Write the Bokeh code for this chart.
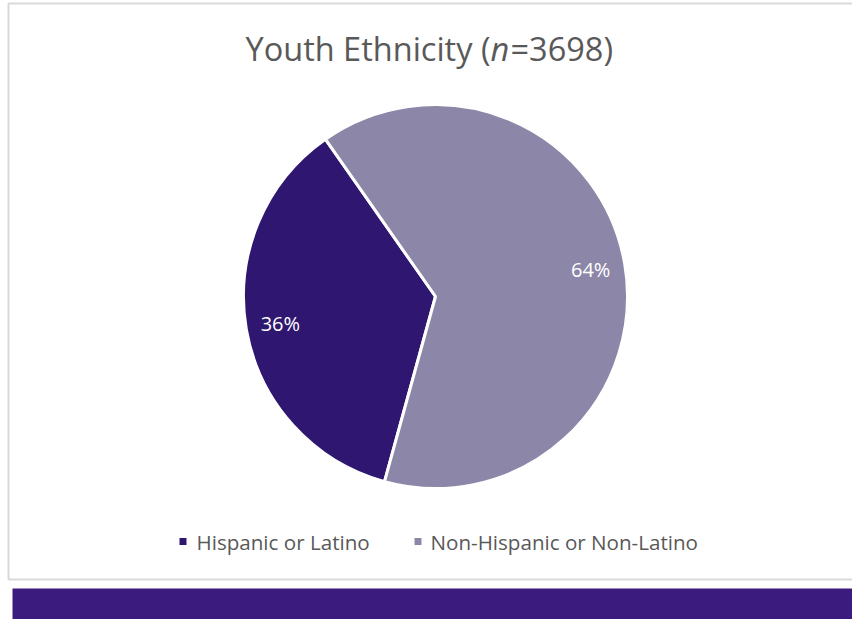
import math
from bokeh.plotting import figure
from bokeh.models import Range1d
from bokeh.core.properties import value
from bokeh.embed import file_html
from bokeh.resources import INLINE

# ---- data ----
categories = ["Hispanic or Latino", "Non-Hispanic or Non-Latino"]
percents = [36, 64]
colors = ["#2F1670", "#8C87A8"]
title_main = "Youth Ethnicity ("
title_n = "n"
title_tail = "=3698)"

W, H = 852, 619
FONT = "Open Sans"

p = figure(width=W, height=H, output_backend="svg", toolbar_location=None,
           x_range=Range1d(0, W), y_range=Range1d(0, H), min_border=0,
           background_fill_color="white", border_fill_color="white")
p.axis.visible = False
p.grid.visible = False
p.outline_line_color = None

def Y(y):  # image y -> data y
    return H - y

# frame and bottom band
p.quad(left=[8], right=[870], top=[Y(3)], bottom=[Y(579)],
       fill_color=None, line_color="#D9D9D9", line_width=2)
p.quad(left=[12], right=[870], top=[Y(588)], bottom=[Y(640)],
       fill_color="#3B1C7E", line_color=None)

# title
ty = Y(48)
tfs = "32.5px"
p.text(x=[490], y=[ty], text=[title_main], text_align="right", text_baseline="middle",
       text_font=value(FONT), text_font_size=tfs, text_color="#595959")
p.text(x=[490], y=[ty], text=[title_n], text_align="left", text_baseline="middle",
       text_font=value(FONT), text_font_size=tfs, text_color="#595959", text_font_style="italic")
p.text(x=[510], y=[ty], text=[title_tail], text_align="left", text_baseline="middle",
       text_font=value(FONT), text_font_size=tfs, text_color="#595959")

# pie
cx, cy, R = 435, Y(296), 192
start_deg = 125.0
total = sum(percents)
starts, ends, mids = [], [], []
a = math.radians(start_deg)
for v in percents:
    span = 2 * math.pi * v / total
    starts.append(a)
    ends.append(a + span)
    mids.append(a + span / 2)
    a += span

p.wedge(x=[cx] * len(percents), y=[cy] * len(percents), radius=R,
        start_angle=starts, end_angle=ends, direction="anticlock",
        fill_color=colors, line_color="white", line_width=3)

lr = 0.82 * R
p.text(x=[cx + lr * math.cos(m) for m in mids], y=[cy + lr * math.sin(m) for m in mids],
       text=[f"{v}%" for v in percents], text_align="center", text_baseline="middle",
       text_font=value(FONT), text_font_size="20px", text_color="white")

# legend
leg_y = Y(541)
mark_x = [182.5, 417.5]
text_x = [196, 430]
p.scatter(x=mark_x, y=[leg_y] * 2, marker="square", size=7, fill_color=colors, line_color=None)
p.text(x=text_x, y=[leg_y] * 2, text=categories, text_align="left", text_baseline="middle",
       text_font=value(FONT), text_font_size="20.6px", text_color="#595959")

html = file_html(p, INLINE)
html = html.replace("<head>", "<head><style>body{margin:0;padding:0;}</style>", 1)
open("out.html", "w").write(html)
